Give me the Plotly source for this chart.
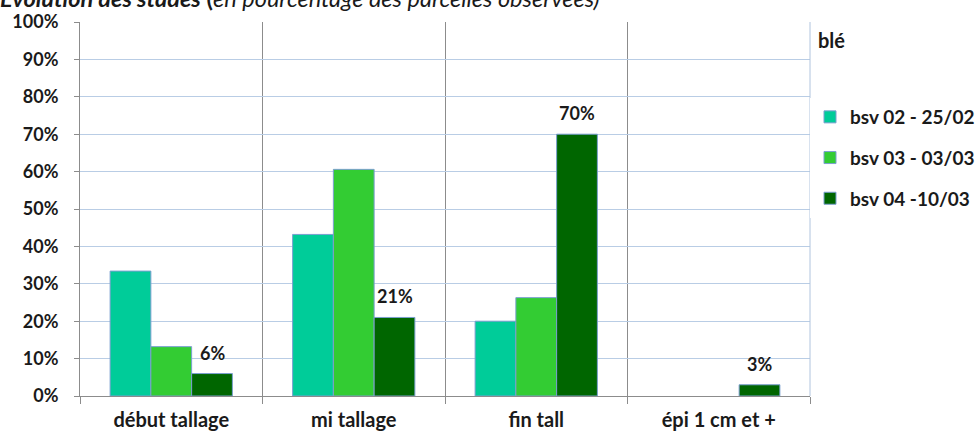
import plotly.graph_objects as go

# Growth stages observed (share of plots)
stages = ["début tallage", "mi tallage", "fin tall", "épi 1 cm et +"]
series_names = ["bsv 02 - 25/02", "bsv 03 - 03/03", "bsv 04 -10/03"]
bsv02 = [0.334, 0.432, 0.20, 0.0]
bsv03 = [0.132, 0.606, 0.263, 0.0]
bsv04 = [0.06, 0.21, 0.70, 0.03]
y_ticks = [0, 0.1, 0.2, 0.3, 0.4, 0.5, 0.6, 0.7, 0.8, 0.9, 1.0]

colors = ["#00CC99", "#33CC33", "#006600"]
FONT = "Lato"
INK = "#1a1a1a"

# plot area geometry (pixels)
W, H = 979, 434
L, R, T, B = 80, 169, 22, 38
plot_w = W - L - R
BARGAP = 0.33
bar_px = plot_w / len(stages) * (1 - BARGAP) / len(series_names)

fig = go.Figure()
for i, (name, vals) in enumerate(zip(series_names, [bsv02, bsv03, bsv04])):
    fig.add_trace(go.Bar(
        x=stages, y=vals, name=name,
        marker=dict(color=colors[i],
                    line=dict(color="#7B9FD0", width=[1 if v > 0 else 0 for v in vals])),
        legendgroup=name,
    ))

# value labels above the last series' bars
for stage, v in zip(stages, bsv04):
    fig.add_annotation(
        x=stage, y=v, xref="x", yref="y", xshift=bar_px, yshift=21,
        xanchor="center", yanchor="middle", showarrow=False,
        text=f"{v:.0%}", font=dict(family=FONT, size=18, color=INK, weight="bold"),
    )

fig.add_annotation(
    xref="paper", yref="paper", x=-0.113, y=(396 + 2) / 374, xanchor="left", yanchor="middle",
    text="<b><i>Évolution des stades</i> (</b><i>en pourcentage des parcelles observées)</i>",
    showarrow=False, font=dict(family=FONT, size=23.5, color=INK),
)
fig.add_annotation(
    xref="paper", yref="paper", x=(816 - 80) / 730, y=(396 - 40) / 374,
    xanchor="left", yanchor="middle",
    text="blé", showarrow=False, font=dict(family=FONT, size=20, color=INK, weight="bold"),
)
# right edge of the plot frame
fig.add_shape(type="line", xref="paper", yref="paper", x0=1, x1=1, y0=0, y1=1,
              line=dict(color="#B0C4DE", width=1))

fig.update_layout(
    width=W, height=H,
    margin=dict(l=L, r=R, t=T, b=B, autoexpand=False),
    paper_bgcolor="white", plot_bgcolor="white",
    barmode="group", bargap=BARGAP, bargroupgap=0,
    showlegend=True,
    legend=dict(
        x=(810 - 80) / 730, y=(396 - 98) / 374, xanchor="left", yanchor="top",
        font=dict(family=FONT, size=19, color=INK, weight="bold"),
        tracegroupgap=13, itemwidth=30,
    ),
    font=dict(family=FONT, color=INK),
)
fig.update_xaxes(
    type="category", tickson="boundaries", ticks="outside", ticklen=7,
    tickcolor="#8C8C8C", showgrid=True, gridcolor="#8C8C8C", gridwidth=1,
    showline=True, linecolor="#8C8C8C", linewidth=1,
    tickfont=dict(family=FONT, size=20, color=INK, weight="bold"),
    ticklabelstandoff=6,
)
fig.update_yaxes(
    range=[0, 1.0], tickvals=y_ticks, tickformat=".0%",
    ticks="outside", ticklen=5, tickcolor="#8C8C8C",
    showgrid=True, gridcolor="#B9CDE5", gridwidth=1,
    showline=True, linecolor="#8C8C8C", linewidth=1,
    zeroline=False,
    tickfont=dict(family=FONT, size=18, color=INK, weight="bold"),
    ticklabelstandoff=12,
)

fig.write_html("out.html")
